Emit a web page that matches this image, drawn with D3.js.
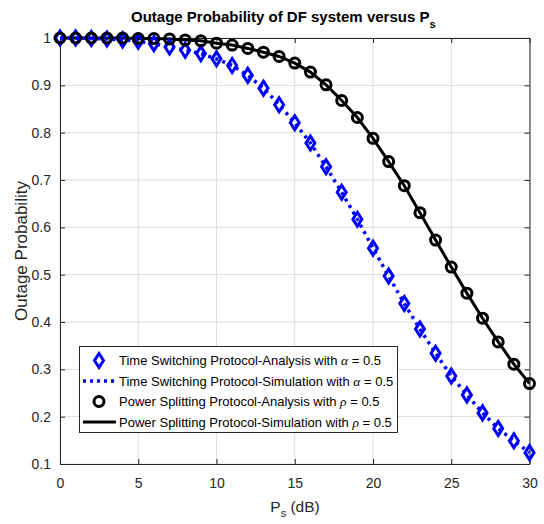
<!DOCTYPE html>
<html>
<head>
<meta charset="utf-8">
<script src="https://cdn.jsdelivr.net/npm/d3@7"></script>
<style>
  html, body { margin: 0; padding: 0; background: #fff; }
  svg { display: block; font-family: "Liberation Sans", Arial, Helvetica, sans-serif; }
</style>
</head>
<body>
<svg id="chart" width="544" height="524"></svg>
<script>
// ---- data ----
const psDb = d3.range(0, 31);
const timeSwitching = [1.0, 1.0, 0.999, 0.998, 0.996, 0.993, 0.988, 0.981, 0.974, 0.967,
  0.956, 0.942, 0.921, 0.894, 0.859, 0.821, 0.778, 0.728, 0.674, 0.617,
  0.556, 0.497, 0.439, 0.385, 0.334, 0.286, 0.246, 0.208, 0.175, 0.149, 0.124];
const powerSplitting = [1.0, 1.0, 1.0, 1.0, 1.0, 0.999, 0.999, 0.998, 0.996, 0.994,
  0.989, 0.985, 0.978, 0.970, 0.961, 0.947, 0.928, 0.901, 0.868, 0.832,
  0.788, 0.739, 0.688, 0.631, 0.573, 0.516, 0.461, 0.408, 0.358, 0.311, 0.270];
const xTickValues = [0, 5, 10, 15, 20, 25, 30];
const yTickValues = [0.1, 0.2, 0.3, 0.4, 0.5, 0.6, 0.7, 0.8, 0.9, 1];
const yTickLabels = ["0.1", "0.2", "0.3", "0.4", "0.5", "0.6", "0.7", "0.8", "0.9", "1"];
const legendLabels = [
  {pre: "Time Switching Protocol-Analysis with ", sym: "α", post: " = 0.5"},
  {pre: "Time Switching Protocol-Simulation with ", sym: "α", post: " = 0.5"},
  {pre: "Power Splitting Protocol-Analysis with ", sym: "ρ", post: " = 0.5"},
  {pre: "Power Splitting Protocol-Simulation with ", sym: "ρ", post: " = 0.5"}
];

// ---- layout ----
const L = 60, R = 529.5, T = 38, B = 464;
const svg = d3.select("#chart");
const x = d3.scaleLinear().domain([0, 30]).range([L, R]);
const y = d3.scaleLinear().domain([0.1, 1]).range([B, T]);
const axisColor = "#262626";

// grid
const g = svg.append("g");
g.selectAll("line.vg").data(xTickValues).enter().append("line")
  .attr("x1", d => x(d)).attr("x2", d => x(d)).attr("y1", T).attr("y2", B)
  .attr("stroke", "#dcdcdc").attr("stroke-width", 1);
g.selectAll("line.hg").data(yTickValues).enter().append("line")
  .attr("y1", d => y(d)).attr("y2", d => y(d)).attr("x1", L).attr("x2", R)
  .attr("stroke", "#dcdcdc").attr("stroke-width", 1);

// axes (ticks inward)
const fmtY = (d) => yTickLabels[yTickValues.indexOf(d)];
const xAxisB = svg.append("g").attr("transform", `translate(0,${B})`)
  .call(d3.axisBottom(x).tickValues(xTickValues).tickSizeInner(-5).tickSizeOuter(0).tickPadding(14));
const xAxisT = svg.append("g").attr("transform", `translate(0,${T})`)
  .call(d3.axisTop(x).tickValues(xTickValues).tickSizeInner(-5).tickSizeOuter(0).tickFormat(""));
const yAxisL = svg.append("g").attr("transform", `translate(${L},0)`)
  .call(d3.axisLeft(y).tickValues(yTickValues).tickSizeInner(-5).tickSizeOuter(0).tickPadding(9).tickFormat(fmtY));
const yAxisR = svg.append("g").attr("transform", `translate(${R},0)`)
  .call(d3.axisRight(y).tickValues(yTickValues).tickSizeInner(-5).tickSizeOuter(0).tickFormat(""));
[xAxisB, xAxisT, yAxisL, yAxisR].forEach(a => {
  a.select(".domain").attr("stroke", axisColor).attr("stroke-width", 1);
  a.selectAll(".tick line").attr("stroke", axisColor);
  a.selectAll(".tick text").attr("fill", axisColor).style("font-size", "14px")
   .style("font-family", '"Liberation Sans", Arial, sans-serif');
});

// series
const plot = svg.append("g");
const ts = psDb.map((d, i) => [d, timeSwitching[i]]);
const ps = psDb.map((d, i) => [d, powerSplitting[i]]);
const line = d3.line().x(d => x(d[0])).y(d => y(d[1]));

plot.append("path").datum(ps).attr("d", line)
  .attr("fill", "none").attr("stroke", "#000").attr("stroke-width", 3);
plot.append("path").datum(ts).attr("d", line)
  .attr("fill", "none").attr("stroke", "#0000ff").attr("stroke-width", 3.5)
  .attr("stroke-dasharray", "3,4.5");

const diamond = "M0,-7L4.5,0L0,7L-4.5,0Z";
plot.selectAll("path.dia").data(ts).enter().append("path")
  .attr("d", diamond).attr("transform", d => `translate(${x(d[0])},${y(d[1])})`)
  .attr("fill", "none").attr("stroke", "#0000ff").attr("stroke-width", 3);
plot.selectAll("circle.cir").data(ps).enter().append("circle")
  .attr("cx", d => x(d[0])).attr("cy", d => y(d[1])).attr("r", 5)
  .attr("fill", "none").attr("stroke", "#000").attr("stroke-width", 3);

// title
const title = svg.append("text").attr("x", 131).attr("y", 22).attr("text-anchor", "start")
  .style("font-size", "15px").style("font-weight", "bold").attr("fill", "#000");
title.append("tspan").text("Outage Probability of DF system versus P");
title.append("tspan").attr("dy", 6).style("font-size", "11px").text("s");

// x label
const xl = svg.append("text").attr("x", 295).attr("y", 512).attr("text-anchor", "middle")
  .style("font-size", "15.5px").attr("fill", axisColor);
xl.append("tspan").text("P");
xl.append("tspan").attr("dy", 5).style("font-size", "11px").text("s");
xl.append("tspan").attr("dy", -5).text(" (dB)");

// y label
svg.append("text").attr("transform", `translate(27,${(T + B) / 2}) rotate(-90)`)
  .attr("text-anchor", "middle").style("font-size", "17px").attr("fill", axisColor)
  .text("Outage Probability");

// legend
const lg = svg.append("g");
lg.append("rect").attr("x", 79.5).attr("y", 346.5).attr("width", 318).attr("height", 86)
  .attr("fill", "#fff").attr("stroke", axisColor).attr("stroke-width", 1);
const rowY = [360.5, 381, 401.5, 422];
legendLabels.forEach((lab, i) => {
  const yy = rowY[i];
  if (i === 0) {
    lg.append("path").attr("d", diamond).attr("transform", `translate(99,${yy})`)
      .attr("fill", "none").attr("stroke", "#0000ff").attr("stroke-width", 3);
  } else if (i === 1) {
    lg.append("line").attr("x1", 83).attr("x2", 116).attr("y1", yy).attr("y2", yy)
      .attr("stroke", "#0000ff").attr("stroke-width", 3.5).attr("stroke-dasharray", "3,4");
  } else if (i === 2) {
    lg.append("circle").attr("cx", 99).attr("cy", yy).attr("r", 5)
      .attr("fill", "none").attr("stroke", "#000").attr("stroke-width", 3);
  } else {
    lg.append("line").attr("x1", 83).attr("x2", 116).attr("y1", yy).attr("y2", yy)
      .attr("stroke", "#000").attr("stroke-width", 3);
  }
  const t = lg.append("text").attr("x", 119).attr("y", yy + 4.5)
    .style("font-size", "13px").attr("fill", "#000");
  t.append("tspan").text(lab.pre);
  t.append("tspan").style("font-family", '"Liberation Serif", "Times New Roman", serif')
    .style("font-style", "italic").style("font-size", "13.5px").text(lab.sym);
  t.append("tspan").text(lab.post);
});
</script>
</body>
</html>
